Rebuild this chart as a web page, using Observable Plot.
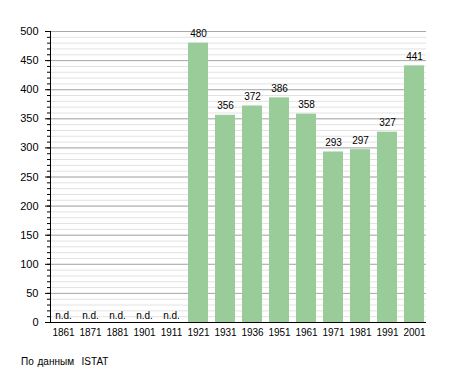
<!DOCTYPE html>
<html>
<head>
<meta charset="utf-8">
<script src="https://cdn.jsdelivr.net/npm/d3@7"></script>
<script src="https://cdn.jsdelivr.net/npm/@observablehq/plot@0.6"></script>
<style>
  html, body { margin: 0; padding: 0; background: #fff; }
  #wrap { position: relative; width: 455px; height: 373px; }
  #caption { position: absolute; left: 21px; top: 357px; font: 10px "Liberation Sans", Arial, sans-serif; line-height: 10px; word-spacing: 1px; color: #000; white-space: nowrap; }
</style>
</head>
<body>
<div id="wrap"><div id="chart"></div><div id="caption">По данным&nbsp; ISTAT</div></div>
<script>
const years = ["1861","1871","1881","1901","1911","1921","1931","1936","1951","1961","1971","1981","1991","2001"];
const values = [null, null, null, null, null, 480, 356, 372, 386, 358, 293, 297, 327, 441];
const majorTicks = [0, 50, 100, 150, 200, 250, 300, 350, 400, 450, 500];
const minorTicks = d3.range(0, 501, 10);
const missingLabel = "n.d.";

const data = years.map((y, i) => ({year: y, value: values[i]}));
const present = data.filter(d => d.value != null);
const missing = data.filter(d => d.value == null);

const chart = Plot.plot({
  width: 455,
  height: 345,
  marginLeft: 50,
  marginRight: 29,
  marginTop: 31,
  marginBottom: 23,
  style: {fontFamily: "'Liberation Sans', Arial, sans-serif", fontSize: "10px", color: "#000", background: "#fff"},
  x: {domain: years, paddingInner: 0.27, paddingOuter: 0, label: null},
  y: {domain: [0, 500], label: null},
  marks: [
    Plot.gridY(minorTicks, {stroke: "#e2e2e2", strokeOpacity: 1}),
    Plot.gridY(majorTicks, {stroke: "#aaaaaa", strokeOpacity: 1}),
    Plot.barY(present, {x: "year", y: "value", fill: "#99cc99"}),
    Plot.text(present, {x: "year", y: "value", text: d => String(d.value), dy: -9.2, fontSize: 10, fill: "#000"}),
    Plot.text(missing, {x: "year", y: () => 0, text: () => missingLabel, dy: -7.2, fontSize: 10, fill: "#000"}),
    Plot.axisY(minorTicks, {tickSize: 3, tickFormat: () => "", label: null, stroke: "#000"}),
    Plot.axisY(majorTicks, {tickSize: 5, tickPadding: 7, fontSize: 11, label: null, stroke: "#000", fill: "#000"}),
    Plot.axisX({tickSize: 0, tickPadding: 6, fontSize: 10, label: null, fill: "#000"}),
    Plot.ruleY([0], {stroke: "#000"}),
    Plot.frame({anchor: "left", stroke: "#000"})
  ]
});
document.getElementById("chart").appendChild(chart);
</script>
</body>
</html>
